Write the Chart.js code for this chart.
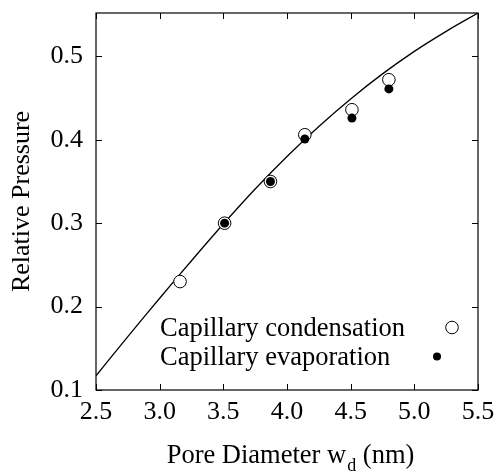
<!DOCTYPE html>
<html>
<head>
<meta charset="utf-8">
<script src="https://cdn.jsdelivr.net/npm/chart.js@4/dist/chart.umd.min.js"></script>
<style>
  html, body { margin: 0; padding: 0; background: #fff; }
  #wrap { width: 495px; height: 475px; position: relative; }
</style>
</head>
<body>
<div id="wrap"><canvas id="c" width="495" height="475"></canvas></div>
<script>
// ---- data ----
const condX = [3.16, 3.51, 3.87, 4.14, 4.51, 4.80];
const condY = [0.230, 0.300, 0.350, 0.406, 0.436, 0.472];
const evapX = [3.51, 3.87, 4.14, 4.51, 4.80];
const evapY = [0.300, 0.350, 0.401, 0.426, 0.461];
const curveX = [2.5, 2.75, 3.0, 3.25, 3.5, 3.75, 4.0, 4.25, 4.5, 4.75, 5.0, 5.25, 5.5];
const curveY = [0.117, 0.164, 0.210, 0.255, 0.299, 0.341, 0.380, 0.416, 0.449, 0.479, 0.506, 0.530, 0.552];
const xTicks = [2.5, 3.0, 3.5, 4.0, 4.5, 5.0, 5.5];
const yTicks = [0.1, 0.2, 0.3, 0.4, 0.5];
const legendLabels = ['Capillary condensation', 'Capillary evaporation'];
const xTitleParts = ['Pore Diameter w', 'd', ' (nm)'];
const yTitle = 'Relative Pressure';

const FONT = "'Liberation Serif', 'Times New Roman', serif";
const toPts = (xs, ys) => xs.map((x, i) => ({ x: x, y: ys[i] }));

const framePlugin = {
  id: 'frame',
  afterDatasetsDraw(chart) {
    const { ctx, chartArea: a, scales } = chart;
    const xs = scales.x, ys = scales.y;
    ctx.save();
    ctx.strokeStyle = '#000';
    ctx.lineWidth = 1.2;
    ctx.strokeRect(a.left, a.top, a.right - a.left, a.bottom - a.top);
    ctx.lineWidth = 1;
    const tl = 6;
    ctx.beginPath();
    xTicks.forEach(v => {
      const px = Math.round(xs.getPixelForValue(v)) + 0.5;
      ctx.moveTo(px, a.bottom); ctx.lineTo(px, a.bottom - tl);
      ctx.moveTo(px, a.top); ctx.lineTo(px, a.top + tl);
    });
    yTicks.forEach(v => {
      const py = Math.round(ys.getPixelForValue(v)) + 0.5;
      ctx.moveTo(a.left, py); ctx.lineTo(a.left + tl, py);
      ctx.moveTo(a.right, py); ctx.lineTo(a.right - tl, py);
    });
    ctx.stroke();

    // legend
    ctx.fillStyle = '#000';
    ctx.font = '26.5px ' + FONT;
    ctx.textBaseline = 'alphabetic';
    ctx.textAlign = 'left';
    const lx = a.left + 64;
    const b1 = a.bottom - 54, b2 = a.bottom - 25;
    ctx.fillText(legendLabels[0], lx, b1);
    ctx.fillText(legendLabels[1], lx, b2);
    // legend markers
    ctx.beginPath();
    ctx.arc(a.right - 26, b1 - 8.5, 6.3, 0, Math.PI * 2);
    ctx.fillStyle = '#fff';
    ctx.fill();
    ctx.strokeStyle = '#000';
    ctx.lineWidth = 1;
    ctx.stroke();
    ctx.beginPath();
    ctx.arc(a.right - 41, b2 - 8.5, 4, 0, Math.PI * 2);
    ctx.fillStyle = '#000';
    ctx.fill();

    // y title
    ctx.save();
    ctx.translate(22, (a.top + a.bottom) / 2);
    ctx.rotate(-Math.PI / 2);
    ctx.textAlign = 'center';
    ctx.textBaseline = 'middle';
    ctx.font = '26px ' + FONT;
    ctx.fillStyle = '#000';
    ctx.fillText(yTitle, 0, 0);
    ctx.restore();

    // x title with subscript
    ctx.font = '26.5px ' + FONT;
    const w1 = ctx.measureText(xTitleParts[0]).width;
    const w3 = ctx.measureText(xTitleParts[2]).width;
    ctx.font = '18px ' + FONT;
    const w2 = ctx.measureText(xTitleParts[1]).width;
    const total = w1 + w2 + w3;
    const sx = 290 - total / 2;
    const base = 463;
    ctx.fillStyle = '#000';
    ctx.font = '26.5px ' + FONT;
    ctx.fillText(xTitleParts[0], sx, base);
    ctx.font = '18px ' + FONT;
    ctx.fillText(xTitleParts[1], sx + w1 + 1, base + 8);
    ctx.font = '26.5px ' + FONT;
    ctx.fillText(xTitleParts[2], sx + w1 + w2 + 1, base);
    ctx.restore();
  }
};

new Chart(document.getElementById('c'), {
  type: 'scatter',
  data: {
    datasets: [
      {
        type: 'line',
        label: 'fit',
        data: toPts(curveX, curveY),
        borderColor: '#000',
        borderWidth: 1.3,
        pointRadius: 0,
        fill: false,
        tension: 0.4,
        order: 3
      },
      {
        label: legendLabels[0],
        data: toPts(condX, condY),
        pointStyle: 'circle',
        pointRadius: 6.3,
        pointBackgroundColor: '#fff',
        pointBorderColor: '#000',
        pointBorderWidth: 1,
        showLine: false,
        order: 2
      },
      {
        label: legendLabels[1],
        data: toPts(evapX, evapY),
        pointStyle: 'circle',
        pointRadius: 4.5,
        pointBackgroundColor: '#000',
        pointBorderColor: '#000',
        pointBorderWidth: 0,
        showLine: false,
        order: 1
      }
    ]
  },
  options: {
    responsive: false,
    animation: false,
    devicePixelRatio: 1,
    layout: { padding: { top: 13, right: 17, left: 0, bottom: 0 } },
    plugins: { legend: { display: false }, tooltip: { enabled: false } },
    scales: {
      x: {
        type: 'linear',
        min: 2.5, max: 5.5,
        grid: { display: false, drawTicks: false },
        border: { display: false },
        afterFit(s) { s.height = 85; s.paddingLeft = 0; s.paddingRight = 0; },
        afterBuildTicks(s) { s.ticks = xTicks.map(v => ({ value: v })); },
        ticks: {
          padding: 7,
          color: '#000',
          font: { family: FONT, size: 26 },
          callback: v => Number(v).toFixed(1),
          maxRotation: 0, autoSkip: false
        }
      },
      y: {
        type: 'linear',
        min: 0.1, max: 0.552,
        grid: { display: false, drawTicks: false },
        border: { display: false },
        afterFit(s) { s.width = 96; s.paddingTop = 0; s.paddingBottom = 0; },
        afterBuildTicks(s) { s.ticks = yTicks.map(v => ({ value: v })); },
        ticks: {
          padding: 13,
          color: '#000',
          font: { family: FONT, size: 26 },
          callback: v => Number(v).toFixed(1),
          autoSkip: false
        }
      }
    }
  },
  plugins: [framePlugin]
});
</script>
</body>
</html>
